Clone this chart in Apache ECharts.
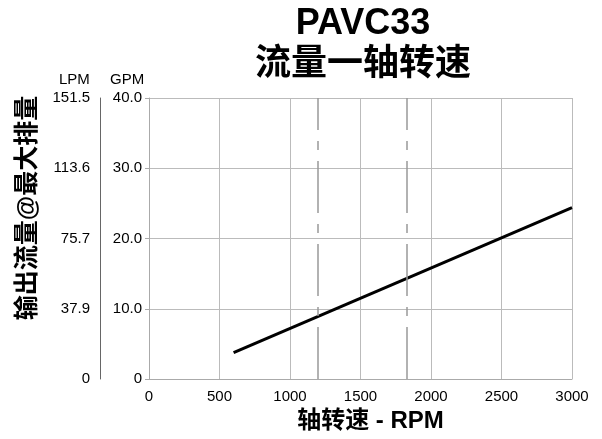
<!DOCTYPE html>
<html>
<head>
<meta charset="utf-8">
<script src="https://cdn.jsdelivr.net/npm/echarts@6/dist/echarts.min.js"></script>
<style>html,body{margin:0;padding:0;background:#fff}#c{width:602px;height:439px}</style>
</head>
<body>
<div id="c"></div>
<script>
// Data
var rpm = [600, 3000];
var gpm = [3.75, 24.4];
var xTicks = ['0', '500', '1000', '1500', '2000', '2500', '3000'];
var gpmTicks = ['0', '10.0', '20.0', '30.0', '40.0'];
var lpmTicks = ['0', '37.9', '75.7', '113.6', '151.5'];
var refSpeeds = [1200, 1825];
var titleMain = 'PAVC33';
var titleSub = '流量一轴转速';
var xTitle = '轴转速 - RPM';
var yTitle = '输出流量@最大排量';

var FONT = '"Liberation Sans", "Noto Sans CJK SC", sans-serif';
var chart = echarts.init(document.getElementById('c'));

var lineData = rpm.map(function (r, i) { return [r, gpm[i]]; });

var option = {
  backgroundColor: '#fff',
  animation: false,
  textStyle: { fontFamily: FONT },
  title: [
    { text: titleMain, left: 358, top: 1, textAlign: 'center',
      textStyle: { fontSize: 36, fontWeight: 'bold', color: '#000', fontFamily: FONT } },
    { text: titleSub, left: 358, top: 42, textAlign: 'center',
      textStyle: { fontSize: 36, fontWeight: 'bold', color: '#000', fontFamily: FONT } }
  ],
  grid: { left: 149, top: 98, width: 423, height: 281, containLabel: false },
  xAxis: {
    type: 'value', min: 0, max: 3000, interval: 500,
    name: xTitle, nameLocation: 'middle', nameGap: 27,
    nameTextStyle: { fontSize: 24, fontWeight: 'bold', color: '#000', fontFamily: FONT, padding: [0, 0, 0, 20] },
    axisLine: { show: true, lineStyle: { color: '#aaa', width: 1 } },
    axisTick: { show: false },
    axisLabel: { fontSize: 15, color: '#000', margin: 10, fontFamily: FONT,
      formatter: function (v) { return xTicks[Math.round(v / 500)]; } },
    splitLine: { show: true, lineStyle: { color: '#bbb', width: 1 } }
  },
  yAxis: [
    {
      type: 'value', min: 0, max: 40, interval: 10, position: 'left',
      axisLine: { show: true, lineStyle: { color: '#aaa', width: 1 } },
      axisTick: { show: true, length: 4, lineStyle: { color: '#aaa' } },
      axisLabel: { fontSize: 15, color: '#000', margin: 7, fontFamily: FONT,
        formatter: function (v) { return gpmTicks[Math.round(v / 10)]; } },
      splitLine: { show: true, lineStyle: { color: '#bbb', width: 1 } }
    },
    {
      type: 'value', min: 0, max: 40, interval: 10, position: 'left', offset: 49,
      axisLine: { show: true, onZero: false, lineStyle: { color: '#666', width: 1 } },
      axisTick: { show: false },
      axisLabel: { fontSize: 15, color: '#000', margin: 10, fontFamily: FONT,
        formatter: function (v) { return lpmTicks[Math.round(v / 10)]; } },
      splitLine: { show: false }
    }
  ],
  graphic: [
    { type: 'text', left: 59, top: 72, style: { text: 'LPM', font: '15px ' + FONT, fill: '#000' } },
    { type: 'text', left: 110, top: 72, style: { text: 'GPM', font: '15px ' + FONT, fill: '#000' } },
    { type: 'text', x: 28, y: 208, rotation: Math.PI / 2,
      style: { text: yTitle, font: 'bold 25px ' + FONT, fill: '#000', align: 'center', verticalAlign: 'middle' } }
  ],
  series: [
    {
      type: 'line', data: lineData, symbol: 'none', silent: true,
      lineStyle: { color: '#000', width: 3 },
      markLine: {
        silent: true, symbol: 'none', label: { show: false },
        lineStyle: { color: '#999', width: 1.5, type: [52, 11, 9, 11] },
        data: refSpeeds.map(function (s) { return { xAxis: s }; })
      }
    }
  ]
};
chart.setOption(option);
</script>
</body>
</html>
